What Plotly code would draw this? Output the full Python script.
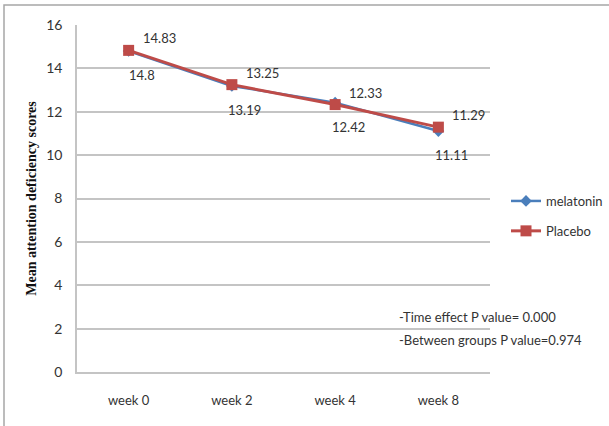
import plotly.graph_objects as go

# Attention deficiency scores over the trial
weeks = ["week 0", "week 2", "week 4", "week 8"]
melatonin = [14.8, 13.19, 12.42, 11.11]
placebo = [14.83, 13.25, 12.33, 11.29]
y_ticks = [0, 2, 4, 6, 8, 10, 12, 14, 16]
notes = ["-Time effect P value= 0.000", "-Between groups P value=0.974"]

BLUE = "#4a7ebb"
RED = "#be4b48"
TEXT = "#333333"
GRID = "#c4c4c4"
FONT = "Lato"

W, H = 609, 426
L, R, T, B = 77, 119, 25, 54
pw, ph = W - L - R, H - T - B


def px_x(px):
    return (px - L) / pw


def px_y(py):
    return (H - B - py) / ph


fig = go.Figure()
fig.add_trace(go.Scatter(
    x=weeks, y=melatonin, name="melatonin", mode="lines+markers",
    line=dict(color=BLUE, width=2.5),
    marker=dict(symbol="diamond", size=9, color=BLUE),
    legendgroup="a",
))
fig.add_trace(go.Scatter(
    x=weeks, y=placebo, name="Placebo", mode="lines+markers",
    line=dict(color=RED, width=3),
    marker=dict(symbol="square", size=11, color=RED),
    legendgroup="b",
))

annotations = []
for wk, v in zip(weeks, melatonin):
    annotations.append(dict(
        x=wk, y=v, xref="x", yref="y", text=f"{v}", showarrow=False,
        xanchor="center", yanchor="middle", xshift=13, yshift=-24,
        font=dict(family=FONT, size=13, color=TEXT),
    ))
for wk, v in zip(weeks, placebo):
    annotations.append(dict(
        x=wk, y=v, xref="x", yref="y", text=f"{v}", showarrow=False,
        xanchor="left", yanchor="middle", xshift=12, yshift=12,
        font=dict(family=FONT, size=13, color=TEXT),
    ))
for i, note in enumerate(notes):
    annotations.append(dict(
        x=px_x(397), y=px_y(317 + 23 * i), xref="paper", yref="paper",
        text=note, showarrow=False, xanchor="left", yanchor="middle",
        font=dict(family=FONT, size=13, color=TEXT),
    ))

fig.update_layout(
    width=W, height=H,
    margin=dict(l=L, r=R, t=T, b=B, pad=0, autoexpand=False),
    paper_bgcolor="white", plot_bgcolor="white",
    font=dict(family=FONT, size=13, color=TEXT),
    showlegend=True,
    legend=dict(
        x=px_x(506), y=px_y(186), xanchor="left", yanchor="top",
        font=dict(family=FONT, size=13, color=TEXT),
        tracegroupgap=10, itemwidth=30, bgcolor="rgba(0,0,0,0)",
    ),
    annotations=annotations,
    shapes=[dict(
        type="rect", xref="paper", yref="paper",
        x0=px_x(4), x1=px_x(640), y0=px_y(460), y1=px_y(5),
        line=dict(color="#a6a6a6", width=1.5), layer="below",
    )],
)

fig.update_xaxes(
    type="category", range=[-0.5, 3.5],
    showline=True, linecolor=GRID, linewidth=1.5,
    showgrid=False, ticks="", ticklabelstandoff=16,
    tickfont=dict(family=FONT, size=13, color=TEXT),
)
fig.update_yaxes(
    range=[0, 16], tickvals=y_ticks,
    showline=True, linecolor=GRID, linewidth=1.5,
    showgrid=True, gridcolor=GRID, gridwidth=1.5, zeroline=False,
    ticks="", ticklabelstandoff=10,
    tickfont=dict(family=FONT, size=14, color=TEXT),
    title=dict(
        text="<b>Mean attention deficiency scores</b>",
        font=dict(family="Liberation Serif", size=14, color="#111111"),
        standoff=6,
    ),
)

fig.write_html("out.html")
